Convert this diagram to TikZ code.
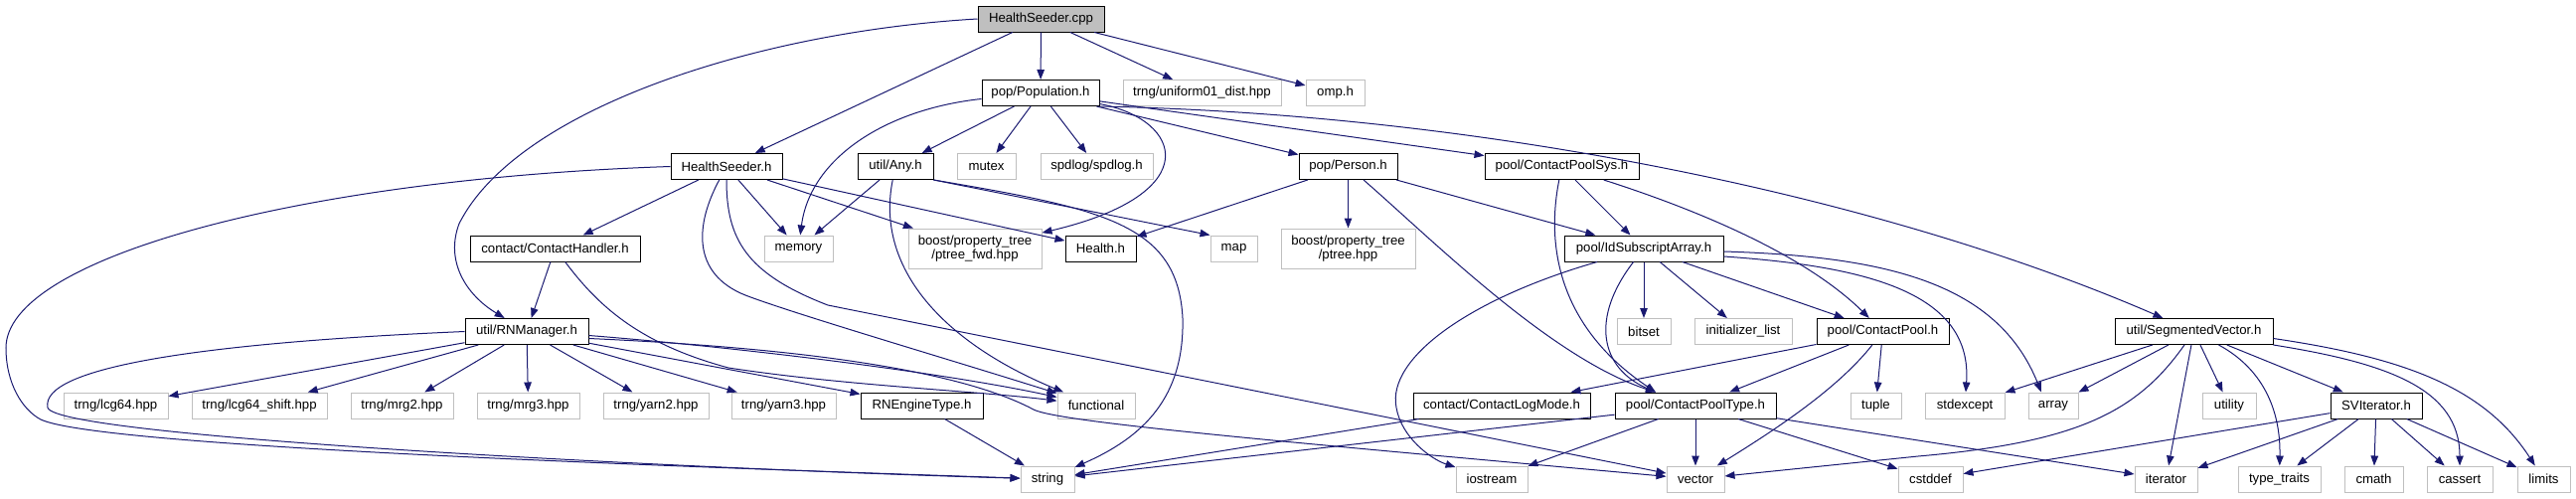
\documentclass[tikz,border=0pt]{standalone}
\usepackage{fontspec}
\setmainfont{Liberation Sans}
\usetikzlibrary{arrows.meta}
\definecolor{cedge}{HTML}{191970}
\definecolor{cgrey}{HTML}{BFBFBF}
\definecolor{croot}{HTML}{BFBFBF}
\tikzset{
  every picture/.style={font=\fontsize{13.2}{14}\selectfont, line width=1pt},
  hdr/.style={draw=black, fill=white, align=center, inner sep=0pt, minimum height=26pt, minimum width=#1 pt},
  hdr/.default=100,
  sys/.style={draw=cgrey, fill=white, align=center, inner sep=0pt, minimum height=26pt, minimum width=#1 pt},
  sys/.default=60,
  root/.style={hdr=#1, fill=croot},
  dep/.style={-{Triangle[length=10pt,width=7.5pt]}, draw=cedge, line width=1pt},
}

\begin{document}
\begin{tikzpicture}[x=1pt, y=-1pt]
  \useasboundingbox (0,0) rectangle (2592,501);
  % project headers
  \node[root=127] (cpp) at (1047.5,19) {HealthSeeder.cpp};
  \node[hdr=118] (pop) at (1047,93.5) {pop/Population.h};
  \node[hdr=112] (hsh) at (731,167.5) {HealthSeeder.h};
  \node[hdr=76] (any) at (901,167.5) {util/Any.h};
  \node[hdr=99] (person) at (1356.5,167.5) {pop/Person.h};
  \node[hdr=155] (cpsys) at (1571.5,167.5) {pool/ContactPoolSys.h};
  \node[hdr=171] (chandler) at (558.5,250) {contact/ContactHandler.h};
  \node[hdr=71] (health) at (1107.5,250) {Health.h};
  \node[hdr=160] (idsub) at (1654,250) {pool/IdSubscriptArray.h};
  \node[hdr=124] (rnm) at (530,333.5) {util/RNManager.h};
  \node[hdr=133] (cpool) at (1894.5,333.5) {pool/ContactPool.h};
  \node[hdr=159] (segvec) at (2207.5,333.5) {util/SegmentedVector.h};
  \node[hdr=123] (rneng) at (927.5,408) {RNEngineType.h};
  \node[hdr=178] (clogmode) at (1511,408) {contact/ContactLogMode.h};
  \node[hdr=162] (cptype) at (1706,408) {pool/ContactPoolType.h};
  \node[hdr=92] (sviter) at (2391,408) {SVIterator.h};
  % system headers
  \node[sys=159] (unif) at (1209.5,93.5) {trng/uniform01\_dist.hpp};
  \node[sys=59] (omp) at (1343.5,93.5) {omp.h};
  \node[sys=59] (mutex) at (992.5,167.5) {mutex};
  \node[sys=113] (spdlog) at (1103.5,167.5) {spdlog/spdlog.h};
  \node[sys=69] (memory) at (803.5,250) {memory};
  \node[sys=134, minimum height=40pt] (ptreefwd) at (981,250) {boost/property\_tree\\/ptree\_fwd.hpp};
  \node[sys=47] (map) at (1241.5,250) {map};
  \node[sys=135, minimum height=40pt] (ptree) at (1356.5,250) {boost/property\_tree\\/ptree.hpp};
  \node[sys=54] (bitset) at (1654,333.5) {bitset};
  \node[sys=98] (initlist) at (1754,333.5) {initializer\_list};
  \foreach \n/\x/\w/\t in {lcg64/116.5/105/{trng/lcg64.hpp}, lcgshift/261/136/{trng/lcg64\_shift.hpp},
      mrg2/404.5/103/{trng/mrg2.hpp}, mrg3/531.5/103/{trng/mrg3.hpp}, yarn2/660/106/{trng/yarn2.hpp},
      yarn3/788.5/105/{trng/yarn3.hpp}, functional/1103/78/{functional}, tuple/1887.5/51/{tuple},
      stdexcept/1977/80/{stdexcept}, array/2066/50/{array}, utility/2243/54/{utility}}
    \node[sys=\w] (\n) at (\x,408) {\t};
  \foreach \n/\x/\w/\t in {string/1054/54/{string}, iostream/1501/72/{iostream}, vector/1706/58/{vector},
      cstddef/1942.5/65/{cstddef}, iterator/2179.5/63/{iterator}, typetraits/2293.5/83/{type\_traits},
      cmath/2388.5/59/{cmath}, cassert/2475/66/{cassert}, limits/2559.5/53/{limits}}
    \node[sys=\w] (\n) at (\x,482) {\t};
  \coordinate (cptin) at ([xshift=-40pt]cptype.north);

  % HealthSeeder.cpp
  \draw[dep] (cpp.west) .. controls (760,32) and (520,110) .. (462,225) .. controls (448,262) and (468,296) .. (rnm);
  \foreach \t in {hsh, pop, unif, omp} \draw[dep] (cpp) -- (\t);
  % pop/Population.h
  \draw[dep] ([yshift=-6pt]pop.west) .. controls (890,110) and (815,160) .. (memory);
  \foreach \t in {any, mutex, spdlog, person, cpsys} \draw[dep] (pop) -- (\t);
  \draw[dep] (pop) .. controls (1190,120) and (1215,195) .. (ptreefwd);
  \draw[dep] (pop.south east) .. controls (1500,115) and (1900,200) .. (segvec);
  % HealthSeeder.h
  \draw[dep] (hsh.west) .. controls (300,180) and (6,260) .. (6,350) .. controls (6,385) and (22,412) .. (41,422) .. controls (100,450) and (700,470) .. (string);
  \foreach \t in {chandler, memory, ptreefwd, health} \draw[dep] (hsh) -- (\t);
  \draw[dep] (hsh) .. controls (700,225) and (695,275) .. (750,297) .. controls (800,316) and (950,360) .. (functional);
  \draw[dep] (hsh) .. controls (731,240) and (750,275) .. (833,307) -- (vector);
  % util/Any.h
  \draw[dep] (any) -- (memory);
  \draw[dep] (any) .. controls (880,270) and (950,345) .. (functional);
  \draw[dep] (any.south east) -- (map.north west);
  \draw[dep] (any.south east) .. controls (1110,210) and (1185,225) .. (1190,320) .. controls (1192,400) and (1150,440) .. (string);
  % contact/ContactHandler.h
  \draw[dep] (chandler) -- (rnm);
  \draw[dep] (chandler) .. controls (600,305) and (640,345) .. (733,370) .. controls (850,388) and (980,393) .. (functional);
  % util/RNManager.h
  \draw[dep] (rnm.west) .. controls (200,345) and (40,370) .. (48,410) .. controls (55,440) and (700,472) .. (string);
  \foreach \t in {lcg64, lcgshift, mrg2, mrg3, yarn2, yarn3, rneng} \draw[dep] (rnm) -- (\t);
  \draw[dep] ([yshift=-4pt]rnm.east) .. controls (750,350) and (950,375) .. (functional);
  \draw[dep] ([yshift=-7pt]rnm.east) .. controls (850,352) and (980,380) .. (1040,412) .. controls (1065,425) and (1300,445) .. (vector);
  \draw[dep] (rneng) -- (string);
  % pop/Person.h
  \foreach \t in {health, ptree, idsub} \draw[dep] (person) -- (\t);
  \draw[dep] (person) .. controls (1440,240) and (1560,360) .. (cptin);
  % pool/ContactPoolSys.h
  \draw[dep] (cpsys) -- (idsub);
  \draw[dep] (cpsys) .. controls (1555,250) and (1570,330) .. (cptin);
  \draw[dep] (cpsys) .. controls (1720,215) and (1820,260) .. (cpool);
  % pool/IdSubscriptArray.h
  \draw[dep] (idsub) .. controls (1480,300) and (1395,360) .. (1405,410) .. controls (1410,440) and (1440,462) .. (iostream);
  \draw[dep] (idsub) .. controls (1600,320) and (1610,370) .. (cptin);
  \foreach \t in {bitset, initlist, cpool} \draw[dep] (idsub) -- (\t);
  \draw[dep] ([yshift=-3pt]idsub.east) .. controls (1900,258) and (2010,285) .. ([xshift=-12pt]array.north);
  \draw[dep] ([yshift=-8pt]idsub.east) .. controls (1880,268) and (1985,295) .. (stdexcept);
  % pool/ContactPool.h
  \foreach \t in {clogmode, cptype, tuple} \draw[dep] (cpool) -- (\t);
  \draw[dep] (cpool) .. controls (1850,390) and (1790,430) .. (vector);
  % pool/ContactPoolType.h
  \foreach \t in {string, iostream, vector, cstddef, iterator} \draw[dep] (cptype) -- (\t);
  \draw[dep] (clogmode) -- (string);
  % util/SegmentedVector.h
  \foreach \t in {stdexcept, array, iterator, utility, sviter} \draw[dep] (segvec) -- (\t);
  \draw[dep] (segvec) .. controls (2150,415) and (2090,445) .. (1930,459) -- (vector);
  \draw[dep] (segvec) .. controls (2275,370) and (2295,410) .. (typetraits);
  \draw[dep] (segvec.south east) .. controls (2400,365) and (2475,390) .. (cassert);
  \draw[dep] ([yshift=-7pt]segvec.east) .. controls (2420,360) and (2500,390) .. (limits);
  % SVIterator.h
  \foreach \t in {cstddef, iterator, typetraits, cmath, cassert, limits} \draw[dep] (sviter) -- (\t);
\end{tikzpicture}
\end{document}
